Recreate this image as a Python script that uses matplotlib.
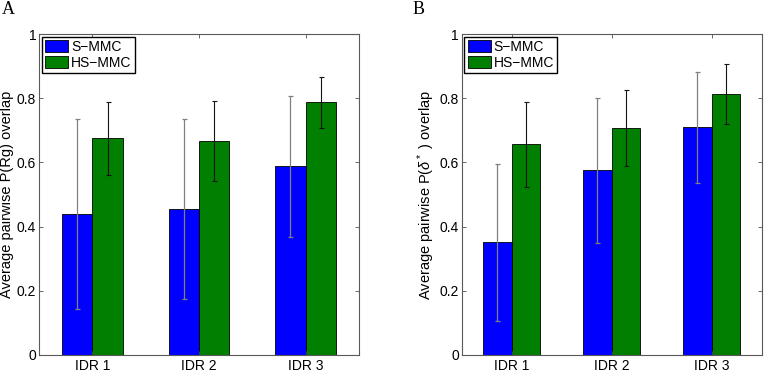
import numpy as np
import matplotlib
matplotlib.use("Agg")
import matplotlib.pyplot as plt

plt.rcParams["font.family"] = ["Liberation Sans", "DejaVu Sans"]
plt.rcParams["mathtext.fontset"] = "custom"
plt.rcParams["mathtext.rm"] = "Liberation Sans"
plt.rcParams["mathtext.it"] = "Liberation Sans:italic"

groups = ["IDR 1", "IDR 2", "IDR 3"]
series = ["S\u2212MMC", "HS\u2212MMC"]

# panel A : P(Rg) overlap
rg_smmc = [0.440, 0.454, 0.588]
rg_smmc_err = [0.296, 0.280, 0.220]
rg_hsmmc = [0.675, 0.667, 0.787]
rg_hsmmc_err = [0.113, 0.125, 0.079]

# panel B : P(delta*) overlap
dl_smmc = [0.351, 0.576, 0.709]
dl_smmc_err = [0.244, 0.226, 0.172]
dl_hsmmc = [0.656, 0.707, 0.814]
dl_hsmmc_err = [0.132, 0.119, 0.093]

yticks = [0, 0.2, 0.4, 0.6, 0.8, 1]
ytick_labels = ["0", "0.2", "0.4", "0.6", "0.8", "1"]

fig = plt.figure(figsize=(7.82, 3.71), dpi=100)
ax_a = fig.add_axes([39 / 782, 16 / 371, 320 / 782, 321 / 371])
ax_b = fig.add_axes([461.7 / 782, 16 / 371, 300 / 782, 321 / 371])

width = 0.285
x = np.arange(1, 4)


def draw(ax, s, s_err, h, h_err, ylabel):
    ax.bar(x - width / 2, s, width, color="#0000ff", edgecolor="black", linewidth=0.6, label=series[0])
    ax.bar(x + width / 2, h, width, color="#007f00", edgecolor="black", linewidth=0.6, label=series[1])
    eb = ax.errorbar(x - width / 2, s, yerr=s_err, fmt="none", ecolor="0.5", elinewidth=0.9,
                     capsize=1.8, capthick=0.9)
    for cap in eb[1]:
        cap.set_color("0.3")
    ax.errorbar(x + width / 2, h, yerr=h_err, fmt="none", ecolor="0.08", elinewidth=0.8,
                capsize=1.8, capthick=0.8)
    ax.set_xlim(0.5, 3.5)
    ax.set_ylim(0, 1)
    ax.set_xticks(x)
    ax.set_xticklabels(groups, fontsize=10)
    ax.set_yticks(yticks)
    ax.set_yticklabels(ytick_labels, fontsize=10)
    ax.tick_params(direction="in", top=True, right=True, length=3, width=0.6, color="0.3", pad=3)
    ax.tick_params(axis="y", pad=2)
    for sp in ax.spines.values():
        sp.set_color("0.35")
        sp.set_linewidth(0.8)
    ax.set_ylabel(ylabel, fontsize=10.5, labelpad=2)
    leg = ax.legend(loc="upper left", fontsize=10, frameon=True, fancybox=False,
                    handlelength=1.65, handleheight=0.95, handletextpad=0.2,
                    labelspacing=0.12, borderaxespad=0.2, borderpad=0.25)
    leg.get_frame().set_edgecolor("black")
    leg.get_frame().set_linewidth(1.0)
    leg.get_frame().set_alpha(1)


draw(ax_a, rg_smmc, rg_smmc_err, rg_hsmmc, rg_hsmmc_err, "Average pairwise P(Rg) overlap")
draw(ax_b, dl_smmc, dl_smmc_err, dl_hsmmc, dl_hsmmc_err, r"Average pairwise P($\delta^*$ ) overlap")

fig.text(2 / 782, 1 - 14 / 371, "A", fontsize=13, family="Liberation Serif")
fig.text(413 / 782, 1 - 14 / 371, "B", fontsize=13, family="Liberation Serif")

fig.savefig("out.png", dpi=100)
